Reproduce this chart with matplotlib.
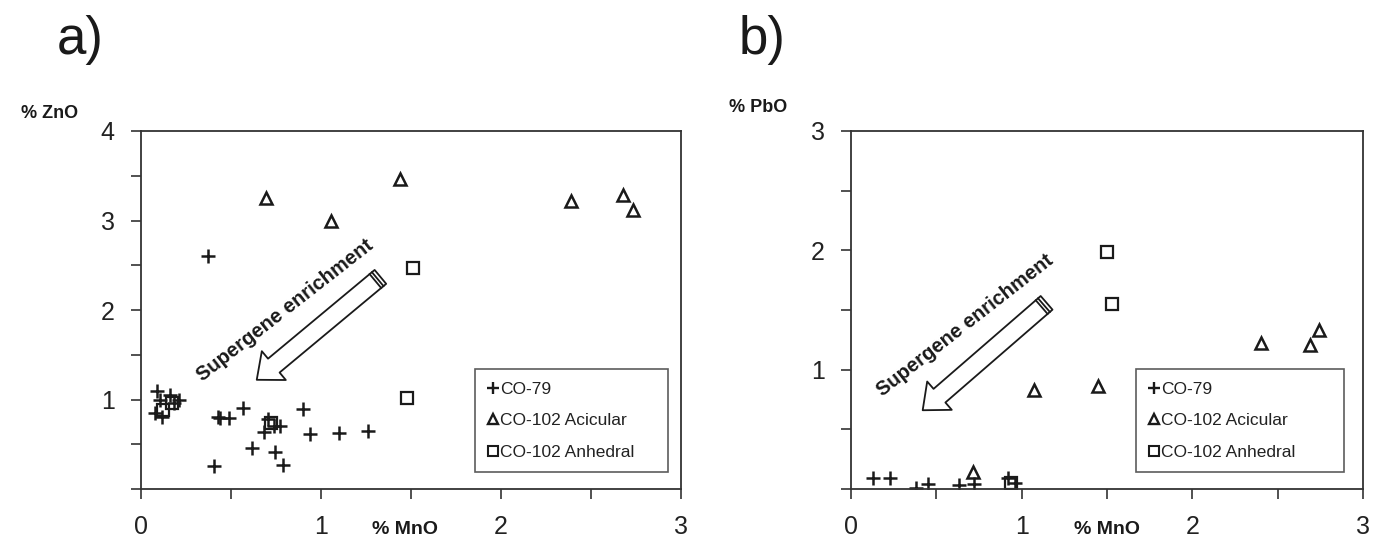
import matplotlib
matplotlib.use('Agg')
import matplotlib.pyplot as plt
import numpy as np
from matplotlib.patches import FancyArrowPatch, ArrowStyle
from matplotlib.lines import Line2D

plt.rcParams['font.family'] = ['Liberation Sans', 'DejaVu Sans']

# ---------------- data ----------------
series_labels = ["CO-79", "CO-102 Acicular", "CO-102 Anhedral"]
x_ticks = [0, 1, 2, 3]

# Panel a: ZnO vs MnO
a_co79_mno = [0.374, 0.087, 0.161, 0.213, 0.106, 0.185, 0.078, 0.115, 0.43, 0.44, 0.49,
              0.565, 0.90, 0.707, 0.683, 0.772, 0.74, 0.939, 1.10, 1.26, 0.615, 0.744,
              0.79, 0.406]
a_co79_zno = [2.60, 1.10, 1.05, 1.00, 0.99, 0.96, 0.85, 0.81, 0.81, 0.79, 0.79,
              0.91, 0.89, 0.78, 0.64, 0.70, 0.70, 0.62, 0.63, 0.65, 0.46, 0.41,
              0.27, 0.26]
a_acic_mno = [0.695, 1.055, 1.44, 2.39, 2.68, 2.735]
a_acic_zno = [3.25, 2.99, 3.46, 3.22, 3.28, 3.12]
a_anh_mno = [1.513, 1.476, 0.12, 0.17, 0.72]
a_anh_zno = [2.47, 1.02, 0.88, 0.96, 0.74]
a_y_ticks = [1, 2, 3, 4]

# Panel b: PbO vs MnO
b_co79_mno = [0.13, 0.23, 0.38, 0.45, 0.63, 0.72, 0.92, 0.96]
b_co79_pbo = [0.09, 0.09, 0.01, 0.04, 0.03, 0.04, 0.09, 0.05]
b_acic_mno = [0.715, 1.07, 1.45, 2.40, 2.69, 2.745]
b_acic_pbo = [0.145, 0.83, 0.86, 1.22, 1.21, 1.33]
b_anh_mno = [1.50, 1.53, 0.94]
b_anh_pbo = [1.99, 1.55, 0.05]
b_y_ticks = [1, 2, 3]

annotation_text = "Supergene enrichment"

# ---------------- figure ----------------
W, H = 1374, 540
fig = plt.figure(figsize=(W / 100, H / 100), dpi=100)
fig.patch.set_facecolor('white')

ink = '#1a1a1a'
frame = '#333333'


def px_axes(l, r, t, b):
    return fig.add_axes([l / W, 1 - b / H, (r - l) / W, (b - t) / H])


axA = px_axes(141, 681, 131, 489)
axB = px_axes(851, 1363, 131, 489)


def fmt(t, shown):
    return str(int(round(t))) if (abs(t - round(t)) < 1e-9 and int(round(t)) in shown) else ''


def style_axis(ax, ymax, yticks):
    ax.set_xlim(0, 3)
    ax.set_ylim(0, ymax)
    xt = np.arange(0, 3.01, 0.5)
    ax.set_xticks(xt)
    ax.set_xticklabels([fmt(t, x_ticks) for t in xt])
    yt = np.arange(0, ymax + 0.01, 0.5)
    ax.set_yticks(yt)
    ax.set_yticklabels([fmt(t, yticks) for t in yt])
    ax.tick_params(direction='out', length=7, width=1.2, color=frame,
                   labelsize=18, labelcolor='#222222', pad=12)
    for s in ax.spines.values():
        s.set_color(frame)
        s.set_linewidth(1.3)


style_axis(axA, 4, a_y_ticks)
style_axis(axB, 3, b_y_ticks)

mk = dict(linestyle='none', color=ink, markerfacecolor='none')


def plot_panel(ax, cx, cy, tx, ty, sx, sy, legend_box):
    ax.plot(cx, cy, marker='+', markersize=10, markeredgewidth=1.8, **mk)
    ax.plot(tx, ty, marker='^', markersize=8.5, markeredgewidth=1.8, **mk)
    ax.plot(sx, sy, marker='s', markersize=8, markeredgewidth=1.6, **mk)
    handles = [
        Line2D([], [], marker='+', markersize=9, markeredgewidth=1.7, **mk),
        Line2D([], [], marker='^', markersize=7, markeredgewidth=1.7, **mk),
        Line2D([], [], marker='s', markersize=7, markeredgewidth=1.5, **mk),
    ]
    leg = ax.legend(handles, series_labels, loc='lower left',
                    bbox_to_anchor=legend_box, mode='expand', borderaxespad=0,
                    fontsize=12.5, handlelength=0.6, handletextpad=0.15,
                    labelspacing=0.95, borderpad=0.7, fancybox=False,
                    frameon=True, edgecolor=frame, labelcolor='#222222')
    leg.get_frame().set_linewidth(1.2)
    leg.set_zorder(1)


plot_panel(axA, a_co79_mno, a_co79_zno, a_acic_mno, a_acic_zno, a_anh_mno, a_anh_zno,
           (0.619, 0.047, 0.357, 0.29))
plot_panel(axB, b_co79_mno, b_co79_pbo, b_acic_mno, b_acic_pbo, b_anh_mno, b_anh_pbo,
           (0.557, 0.047, 0.406, 0.31))

TAIL_W = 13


def hollow_arrow(ax, tail, tip):
    style = ArrowStyle.Simple(head_length=16, head_width=27, tail_width=TAIL_W)
    arr = FancyArrowPatch(tail, tip, arrowstyle=style, facecolor='white',
                          edgecolor=ink, linewidth=1.3, shrinkA=0, shrinkB=0,
                          mutation_scale=1, zorder=3)
    ax.add_patch(arr)
    # stripes at tail
    p0 = ax.transData.transform(tail)
    p1 = ax.transData.transform(tip)
    d = (p1 - p0) / np.linalg.norm(p1 - p0)
    n = np.array([-d[1], d[0]])
    half = TAIL_W * 100 / 72 / 2
    for off in (3.5, 6.5):
        c = p0 + d * off
        a1 = c + n * half
        a2 = c - n * half
        fig.add_artist(Line2D([a1[0], a2[0]], [a1[1], a2[1]], color=ink,
                              linewidth=1.3, transform=None, zorder=4))


hollow_arrow(axA, (1.33, 2.37), (0.643, 1.22))
hollow_arrow(axB, (1.146, 1.56), (0.42, 0.66))

axA.text(0.80, 2.00, annotation_text, rotation=38, rotation_mode='anchor',
         ha='center', va='center', fontsize=14.5, fontweight='bold', color=ink)
axB.text(0.67, 1.37, annotation_text, rotation=38, rotation_mode='anchor',
         ha='center', va='center', fontsize=14.5, fontweight='bold', color=ink)


def ftext(x, y, s, **kw):
    fig.text(x / W, 1 - y / H, s, ha='center', va='center', color=ink, **kw)


ftext(80, 40, 'a)', fontsize=38)
ftext(762, 40, 'b)', fontsize=38)
ftext(50, 113, '% ZnO', fontsize=13, fontweight='bold')
ftext(758, 108, '% PbO', fontsize=13, fontweight='bold')
ftext(405, 530, '% MnO', fontsize=14, fontweight='bold')
ftext(1107, 530, '% MnO', fontsize=14, fontweight='bold')

fig.savefig('out.png', dpi=100)
